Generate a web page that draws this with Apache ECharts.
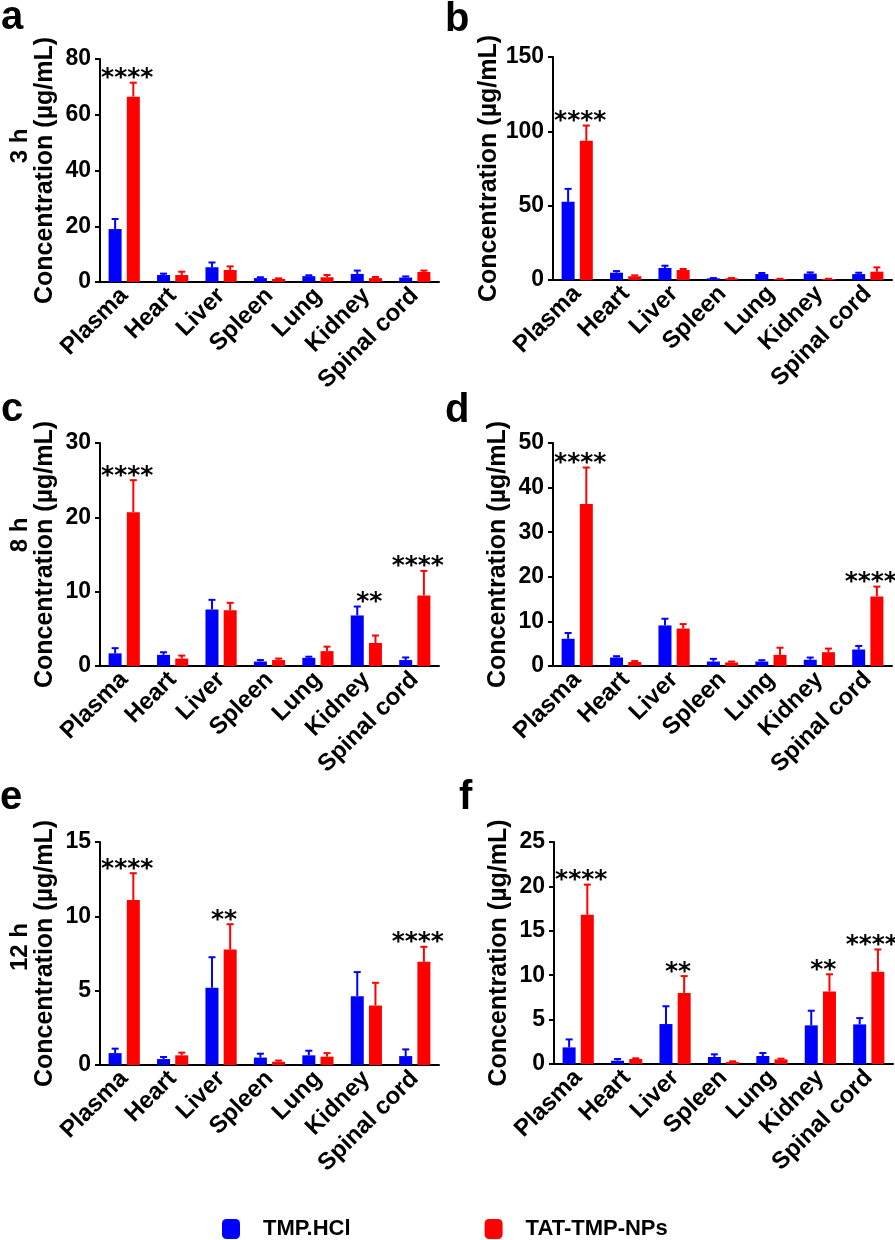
<!DOCTYPE html>
<html>
<head>
<meta charset="utf-8">
<script src="https://cdn.jsdelivr.net/npm/echarts@6/dist/echarts.min.js"></script>
<style>
  html, body { margin: 0; padding: 0; background: #fff; }
  #chart { width: 895px; height: 1240px; }
</style>
</head>
<body>
<div id="chart"></div>
<script>
// organs on the x axis of every panel
const categories = ['Plasma', 'Heart', 'Liver', 'Spleen', 'Lung', 'Kidney', 'Spinal cord']
const timeLabels = ['3 h', '8 h', '12 h']
const panelLetters = ['a', 'b', 'c', 'd', 'e', 'f']
const seriesNames = ['TMP.HCl', 'TAT-TMP-NPs']

// mean values (µg/mL) and SD (upper error bar)
const hclA = [19.0, 2.5, 5.3, 1.4, 2.1, 2.9, 1.6]
const hclSdA = [3.6, 0.5, 1.7, 0.3, 0.3, 1.2, 0.4]
const npA = [66.5, 2.5, 4.3, 1.1, 1.7, 1.4, 3.6]
const npSdA = [5.0, 1.2, 1.3, 0.2, 0.8, 0.4, 0.5]

const hclB = [52.6, 4.9, 8.1, 1.1, 4.0, 4.3, 4.0]
const hclSdB = [8.7, 1.1, 1.5, 0.2, 0.7, 0.8, 0.9]
const npB = [93.6, 2.5, 6.7, 1.1, 0.7, 0.7, 5.6]
const npSdB = [10.3, 0.6, 0.7, 0.2, 0.1, 0.1, 2.9]

const hclC = [1.7, 1.5, 7.6, 0.6, 1.1, 6.8, 0.8]
const hclSdC = [0.7, 0.35, 1.3, 0.2, 0.15, 1.2, 0.35]
const npC = [20.7, 1.0, 7.5, 0.8, 2.0, 3.1, 9.5]
const npSdC = [4.3, 0.4, 1.0, 0.2, 0.6, 1.0, 3.3]

const hclD = [6.1, 1.9, 9.1, 1.0, 1.0, 1.4, 3.7]
const hclSdD = [1.3, 0.3, 1.5, 0.6, 0.3, 0.5, 0.8]
const npD = [36.3, 0.9, 8.4, 0.8, 2.5, 3.1, 15.6]
const npSdD = [8.2, 0.2, 1.0, 0.2, 1.6, 0.8, 2.2]

const hclE = [0.8, 0.4, 5.2, 0.5, 0.65, 4.63, 0.6]
const hclSdE = [0.3, 0.14, 2.05, 0.26, 0.31, 1.62, 0.45]
const npE = [11.1, 0.65, 7.77, 0.22, 0.56, 4.0, 6.94]
const npSdE = [1.8, 0.18, 1.7, 0.08, 0.24, 1.53, 1.01]

const hclF = [1.87, 0.37, 4.5, 0.79, 0.9, 4.35, 4.46]
const hclSdF = [0.9, 0.19, 2.0, 0.3, 0.34, 1.65, 0.71]
const npF = [16.8, 0.56, 8.0, 0.22, 0.52, 8.17, 10.4]
const npSdF = [3.4, 0.08, 1.9, 0.08, 0.08, 1.93, 2.5]

// significance marks per organ
const starsA = ['****', '', '', '', '', '', '']
const starsB = ['****', '', '', '', '', '', '']
const starsC = ['****', '', '', '', '', '**', '****']
const starsD = ['****', '', '', '', '', '', '****']
const starsE = ['****', '', '**', '', '', '', '****']
const starsF = ['****', '', '**', '', '', '**', '****']

// y axis max / tick step
const yMaxes = [80, 150, 30, 50, 15, 25]
const yIntervals = [20, 50, 10, 10, 5, 5]

const panels = [
  { hcl: hclA, hclSd: hclSdA, np: npA, npSd: npSdA, stars: starsA },
  { hcl: hclB, hclSd: hclSdB, np: npB, npSd: npSdB, stars: starsB },
  { hcl: hclC, hclSd: hclSdC, np: npC, npSd: npSdC, stars: starsC },
  { hcl: hclD, hclSd: hclSdD, np: npD, npSd: npSdD, stars: starsD },
  { hcl: hclE, hclSd: hclSdE, np: npE, npSd: npSdE, stars: starsE },
  { hcl: hclF, hclSd: hclSdF, np: npF, npSd: npSdF, stars: starsF },
]

// layout (px)
const grids = [
  { left: 100, top: 59, width: 339, height: 223 },
  { left: 553, top: 57, width: 339, height: 223 },
  { left: 100, top: 443, width: 339, height: 223 },
  { left: 553, top: 443, width: 339, height: 223 },
  { left: 100, top: 842, width: 339, height: 223 },
  { left: 554, top: 842, width: 339, height: 222 },
]
const letterPos = [[1, 38], [445, 40], [1, 430], [445, 431], [0, 818], [459, 818]]
const timePos = [[20, 146], [20, 535], [20, 947]]

const FONT = '"Liberation Sans", Arial, Helvetica, sans-serif'
const colors = ['#0000FF', '#FF0000']
const barWidth = 13
const barGap = 0.4
const barShift = barWidth * (1 + barGap) / 2

const errorSeries = (gi, mean, sd, color, shift) => ({
  type: 'custom',
  xAxisIndex: gi,
  yAxisIndex: gi,
  silent: true,
  z: 1,
  data: mean.map((m, i) => [i, m, m + sd[i]]),
  renderItem: (params, api) => {
    const base = api.coord([api.value(0), api.value(1)])
    const top = api.coord([api.value(0), api.value(2)])
    const x = base[0] + shift
    const st = { stroke: color, lineWidth: 2 }
    return {
      type: 'group',
      children: [
        { type: 'line', shape: { x1: x, y1: base[1], x2: x, y2: top[1] }, style: st },
        { type: 'line', shape: { x1: x - 3.5, y1: top[1], x2: x + 3.5, y2: top[1] }, style: st },
      ]
    }
  }
})

const series = []
const xAxes = []
const yAxes = []

panels.forEach((p, gi) => {
  xAxes.push({
    type: 'category',
    gridIndex: gi,
    data: categories,
    axisLine: { lineStyle: { color: '#000', width: 2 } },
    axisTick: { alignWithLabel: true, length: 6, lineStyle: { color: '#000', width: 2 } },
    axisLabel: {
      interval: 0, rotate: 45, margin: 10,
      color: '#000', fontFamily: FONT, fontWeight: 'bold', fontSize: 24
    }
  })
  yAxes.push({
    type: 'value',
    gridIndex: gi,
    min: 0,
    max: yMaxes[gi],
    interval: yIntervals[gi],
    name: 'Concentration (µg/mL)',
    nameLocation: 'middle',
    nameGap: 42,
    nameTextStyle: { color: '#000', fontFamily: FONT, fontWeight: 'bold', fontSize: 25 },
    axisLine: { show: true, lineStyle: { color: '#000', width: 2 } },
    axisTick: { show: true, length: 5, lineStyle: { color: '#000', width: 2 } },
    splitLine: { show: false },
    axisLabel: { margin: 9, color: '#000', fontFamily: FONT, fontWeight: 'bold', fontSize: 23 }
  })
  series.push({
    name: seriesNames[0], type: 'bar', xAxisIndex: gi, yAxisIndex: gi,
    data: p.hcl, barWidth, barGap: (barGap * 100) + '%',
    itemStyle: { color: colors[0] }, z: 2
  })
  series.push({
    name: seriesNames[1], type: 'bar', xAxisIndex: gi, yAxisIndex: gi,
    data: p.np, barWidth, barGap: (barGap * 100) + '%',
    itemStyle: { color: colors[1] }, z: 2
  })
  series.push(errorSeries(gi, p.hcl, p.hclSd, colors[0], -barShift))
  series.push(errorSeries(gi, p.np, p.npSd, colors[1], barShift))
  series.push({
    type: 'scatter', xAxisIndex: gi, yAxisIndex: gi, silent: true,
    symbolSize: 0,
    itemStyle: { color: '#000', opacity: 1 },
    data: p.stars.map((s, i) => [i, Math.max(p.hcl[i] + p.hclSd[i], p.np[i] + p.npSd[i]), s]).filter(d => d[2]),
    label: {
      show: true,
      position: 'inside',
      formatter: (d) => d.data[2],
      offset: [3, -4],
      color: '#000', opacity: 1, textBorderWidth: 0,
      fontFamily: '"DejaVu Sans", sans-serif', fontWeight: 'bold', fontSize: 25
    }
  })
})

const graphic = []
panelLetters.forEach((l, i) => {
  graphic.push({
    type: 'text', left: letterPos[i][0], top: letterPos[i][1] - 40, silent: true,
    style: { text: l, fill: '#000', font: 'bold 40px ' + FONT }
  })
})
timeLabels.forEach((t, i) => {
  graphic.push({
    type: 'text', x: timePos[i][0], y: timePos[i][1], rotation: Math.PI / 2, silent: true,
    style: { text: t, fill: '#000', font: 'bold 24px ' + FONT, align: 'center', verticalAlign: 'middle' }
  })
})

const chart = echarts.init(document.getElementById('chart'), null, { renderer: 'canvas' })
chart.setOption({
  animation: false,
  backgroundColor: '#fff',
  grid: grids,
  xAxis: xAxes,
  yAxis: yAxes,
  legend: {
    data: seriesNames,
    left: 222,
    top: 1218,
    padding: 0,
    itemWidth: 18,
    itemHeight: 20,
    itemGap: 134,
    icon: 'roundRect',
    selectedMode: false,
    textStyle: { color: '#000', fontFamily: FONT, fontWeight: 'bold', fontSize: 22, padding: [0, 0, 0, 18] }
  },
  graphic,
  series
})
</script>
</body>
</html>
